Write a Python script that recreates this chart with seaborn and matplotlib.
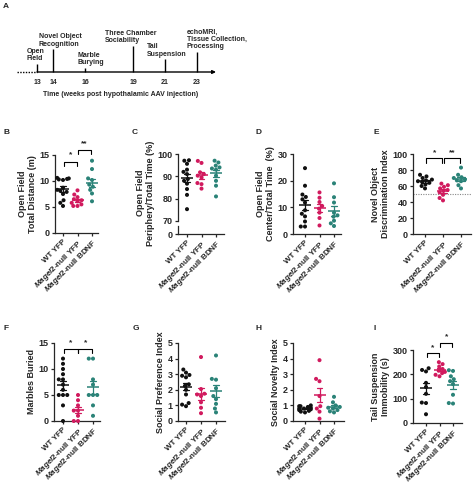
import numpy as np
import pandas as pd
import seaborn as sns
import matplotlib.pyplot as plt

# groups shared by every panel
groups = ['WT YFP', 'Magel2-null YFP', 'Magel2-null BDNF']
group_labels = ['WT YFP', r'$\mathit{Magel2}$-null YFP', r'$\mathit{Magel2}$-null BDNF']
colors = ['#111111', '#D11A5E', '#2B8378']

# A: timeline
weeks = [13, 14, 16, 19, 21, 23]
events = ['Open\nField', 'Novel Object\nRecognition', 'Marble\nBurying',
          'Three Chamber\nSociability', 'Tail\nSuspension',
          'echoMRI,\nTissue Collection,\nProcessing']

# B: open field total distance (m)
dist_wt = [10.6, 10.5, 10.4, 10.3, 10.2, 8.7, 8.3, 8.1, 7.9, 7.5, 6.3, 5.8, 5.2]
dist_mag = [8.2, 7.4, 6.9, 6.5, 6.3, 6.1, 5.8, 5.5, 5.2, 5.2]
dist_bdnf = [13.9, 12.3, 10.5, 10.2, 9.3, 8.9, 8.3, 7.6, 6.1]

# C: periphery / total time (%)
peri_wt = [97.2, 97.0, 95.6, 93.0, 92.0, 91.0, 88.8, 88.0, 86.7, 84.3, 81.7, 75.3]
peri_mag = [96.9, 96.0, 91.8, 91.0, 90.3, 89.5, 87.0, 86.5, 84.5]
peri_bdnf = [97.0, 96.2, 94.8, 94.0, 93.5, 93.0, 90.3, 88.0, 85.8, 81.0]

# D: center / total time (%)
center_wt = [24.7, 18.1, 14.8, 13.9, 13.0, 11.8, 8.9, 7.6, 6.6, 4.7, 2.8, 2.8]
center_mag = [15.6, 13.6, 12.0, 10.5, 9.5, 8.0, 6.0, 3.2]
center_bdnf = [19.0, 13.8, 11.8, 8.0, 7.0, 6.5, 5.0, 4.0, 3.0]

# E: novel object discrimination index
nor_wt = [74, 72, 70, 68, 67, 66, 65, 64, 62, 60, 57]
nor_mag = [63, 61, 59, 57, 55, 54, 52, 49, 45, 42]
nor_bdnf = [83, 74, 71, 70, 68, 67, 66, 61, 57]
nor_chance = 50

# F: marbles buried
marble_wt = [12, 11, 10, 9, 8, 8, 7, 6, 5, 5, 5, 3, 0]
marble_mag = [5, 4, 3, 2, 2, 1, 0, 0]
marble_bdnf = [12, 12, 8, 7, 5, 5, 5, 3, 1]

# G: social preference index
spi_wt = [3.3, 3.1, 2.95, 2.9, 2.8, 2.35, 2.25, 2.0, 1.7, 1.15, 1.05, 0.95]
spi_mag = [4.1, 2.05, 1.75, 1.7, 1.6, 1.2, 0.85, 0.5]
spi_bdnf = [4.2, 2.7, 2.65, 2.1, 1.6, 1.4, 1.1, 0.8, 0.55]

# H: social novelty index
sni_wt = [1.0, 0.95, 0.95, 0.9, 0.85, 0.8, 0.8, 0.75, 0.7, 0.65, 0.6, 0.55]
sni_mag = [3.9, 2.7, 2.55, 1.6, 0.95, 0.8, 0.6, 0.15]
sni_bdnf = [1.55, 1.2, 1.0, 0.9, 0.85, 0.8, 0.7, 0.62, 0.55]

# I: tail suspension immobility (s)
tail_wt = [225, 218, 212, 165, 148, 120, 84, 82, 36]
tail_mag = [250, 242, 232, 222, 215, 210, 205, 198, 192]
tail_bdnf = [217, 214, 192, 180, 172, 160, 116, 82, 80]


sns.set_style('ticks')
plt.rcParams['font.family'] = ['Liberation Sans', 'DejaVu Sans']
plt.rcParams['font.weight'] = 'bold'
plt.rcParams['axes.labelweight'] = 'bold'
plt.rcParams['mathtext.fontset'] = 'custom'
plt.rcParams['mathtext.rm'] = 'Liberation Sans:bold'
plt.rcParams['mathtext.it'] = 'Liberation Sans:italic:bold'
plt.rcParams['mathtext.bf'] = 'Liberation Sans:bold'
plt.rcParams['axes.linewidth'] = 0.9
plt.rcParams['xtick.major.width'] = 0.9
plt.rcParams['ytick.major.width'] = 0.9
plt.rcParams['xtick.major.size'] = 2.5
plt.rcParams['ytick.major.size'] = 2.5
plt.rcParams['xtick.major.pad'] = 1.0
plt.rcParams['ytick.major.pad'] = 1.5

W, H = 474, 487
fig = plt.figure(figsize=(W / 100, H / 100), dpi=100)
FS = 6.5
FS_X = 5.8
FS_A = 5.0


def px_axes(left, top, right, bottom):
    return fig.add_axes([left / W, 1 - bottom / H, (right - left) / W, (bottom - top) / H])


def letter(x, y, s):
    fig.text(x / W, 1 - y / H, s, fontsize=6, fontweight='bold', va='center', ha='left')


def long_table(values):
    return pd.DataFrame({'group': np.repeat(groups, [len(v) for v in values]),
                         'value': np.concatenate(values).astype(float)})


def group_ticks(ax):
    ax.set_xticks(range(len(groups)))
    ax.set_xticklabels(group_labels, rotation=45, ha='right', rotation_mode='anchor', fontsize=FS_X)


def dot_panel(ax, values, ylim, yticks, ylabel, cat0, step, left, right, show_x=True):
    df = long_table(values)
    sns.swarmplot(data=df, x='group', y='value', hue='group', order=groups, hue_order=groups,
                  palette=colors, size=2.9, ax=ax, legend=False, clip_on=False, zorder=3)
    sns.pointplot(data=df, x='group', y='value', hue='group', order=groups, hue_order=groups,
                  palette=colors, errorbar='se', capsize=0.4, markers='_', markersize=8,
                  markeredgewidth=1.1, linestyles='none', err_kws={'linewidth': 0.9},
                  ax=ax, legend=False)
    ax.set_xlim((left - cat0) / step, (right - cat0) / step)
    ax.set_ylim(*ylim)
    ax.set_yticks(yticks)
    ax.tick_params(labelsize=FS)
    ax.set_ylabel(ylabel, fontsize=FS, labelpad=2, linespacing=1.1)
    ax.set_xlabel('')
    sns.despine(ax=ax)
    if show_x:
        group_ticks(ax)
    else:
        ax.set_xticks([])
        ax.spines['bottom'].set_visible(False)


def bracket(ax, x1, x2, y, leg, label, ystar):
    ax.plot([x1, x1, x2, x2], [y - leg, y, y, y - leg], color='k', lw=0.8, clip_on=False)
    ax.text((x1 + x2) / 2, ystar, label, ha='center', va='center', fontsize=6, clip_on=False)


# ---- A: timeline ----
ax_a = fig.add_axes([0, 1 - 110 / H, 1, 110 / H])
wk_per_px = 10 / 160
ax_a.set_xlim(13 - 37 * wk_per_px, 13 + (W - 37) * wk_per_px)
ax_a.set_ylim(110, 0)
ax_a.axis('off')
line_y = 72
tick_tops = [64, 49, 68, 46, 59, 52]
text_dx = [-10, -14, -7, -28, -18, -10]
ax_a.plot([weeks[0] - 20 * wk_per_px, weeks[0]], [line_y, line_y], color='k', lw=1.0, ls=(0, (1, 1)))
ax_a.annotate('', xy=(weeks[-1] + 19 * wk_per_px, line_y), xytext=(weeks[0], line_y),
              arrowprops=dict(arrowstyle='-|>', lw=1.0, color='k', mutation_scale=5, shrinkA=0, shrinkB=0))
ax_a.vlines(weeks, tick_tops, line_y, color='k', lw=1.0)
for w, top, dx, ev in zip(weeks, tick_tops, text_dx, events):
    ax_a.text(w, 83, str(w), ha='center', va='center', fontsize=FS_A)
    ax_a.text(w + dx * wk_per_px, top - 1.5, ev, ha='left', va='bottom', fontsize=FS_A, linespacing=1.1)
ax_a.text(13 + (121 - 37) * wk_per_px, 95, 'Time (weeks post hypothalamic AAV injection)',
          ha='center', va='center', fontsize=FS_A)
letter(3, 6, 'A')

# ---- B ----
letter(3, 133, 'B')
ax = px_axes(55, 155, 98, 233)
dot_panel(ax, [dist_wt, dist_mag, dist_bdnf], (0, 15), [0, 5, 10, 15],
          'Open Field\nTotal Distance (m)', 63, 14.5, 55, 98)
bracket(ax, 0.1, 0.97, 13.6, 0.7, '*', 15.0)
bracket(ax, 1.03, 1.95, 15.9, 0.7, '**', 17.1)

# ---- C (broken axis) ----
letter(132, 133, 'C')
ax = px_axes(178, 154, 224, 221)
dot_panel(ax, [peri_wt, peri_mag, peri_bdnf], (70, 100), [70, 80, 90, 100],
          'Open Field\nPeriphery/Total Time (%)', 187, 14.5, 178, 224, show_x=False)
ax.yaxis.set_label_coords(-0.5, 0.42)
ax0 = px_axes(178, 226, 224, 234)
ax0.set_xlim(*ax.get_xlim())
ax0.set_ylim(0, 5)
ax0.set_yticks([0])
ax0.tick_params(labelsize=FS)
group_ticks(ax0)
ax0.patch.set_alpha(0)
sns.despine(ax=ax0)

# ---- D ----
letter(255, 133, 'D')
ax = px_axes(293, 154, 341, 234)
dot_panel(ax, [center_wt, center_mag, center_bdnf], (0, 30), [0, 10, 20, 30],
          'Open Field\nCenter/Total Time  (%)', 305, 14.5, 293, 341)

# ---- E ----
letter(373, 133, 'E')
ax = px_axes(413, 154, 471, 234)
dot_panel(ax, [nor_wt, nor_mag, nor_bdnf], (0, 100), [0, 20, 40, 60, 80, 100],
          'Novel Object\nDiscrimination Index', 425, 18, 413, 471)
ax.axhline(nor_chance, color='#888888', lw=0.8, ls=(0, (1, 1.2)), zorder=1)
bracket(ax, 0.05, 0.97, 95, 6, '*', 102)
bracket(ax, 1.03, 1.95, 95, 6, '**', 102)

# ---- F ----
letter(3, 328, 'F')
ax = px_axes(54, 343, 100, 421)
dot_panel(ax, [marble_wt, marble_mag, marble_bdnf], (0, 15), [0, 5, 10, 15],
          'Marbles Buried', 63, 15, 54, 100)
bracket(ax, 0.05, 0.97, 13.9, 0.8, '*', 15.0)
bracket(ax, 1.03, 1.95, 13.9, 0.8, '*', 15.0)

# ---- G ----
letter(133, 328, 'G')
ax = px_axes(178, 343, 225, 421)
dot_panel(ax, [spi_wt, spi_mag, spi_bdnf], (0, 5), [0, 1, 2, 3, 4, 5],
          'Social Preference Index', 186, 15, 178, 225)

# ---- H ----
letter(255, 328, 'H')
ax = px_axes(293, 343, 344, 421)
dot_panel(ax, [sni_wt, sni_mag, sni_bdnf], (0, 5), [0, 1, 2, 3, 4, 5],
          'Social Novelty Index', 305, 14.5, 293, 344)

# ---- I ----
letter(373, 328, 'I')
ax = px_axes(413, 350, 462, 423)
dot_panel(ax, [tail_wt, tail_mag, tail_bdnf], (0, 300), [0, 100, 200, 300],
          'Tail Suspension\nImmobility (s)', 426, 13.5, 413, 462)
bracket(ax, 0.05, 0.97, 287, 15, '*', 311)
bracket(ax, 1.03, 1.95, 330, 18, '*', 353)

fig.savefig('out.png', dpi=100)
